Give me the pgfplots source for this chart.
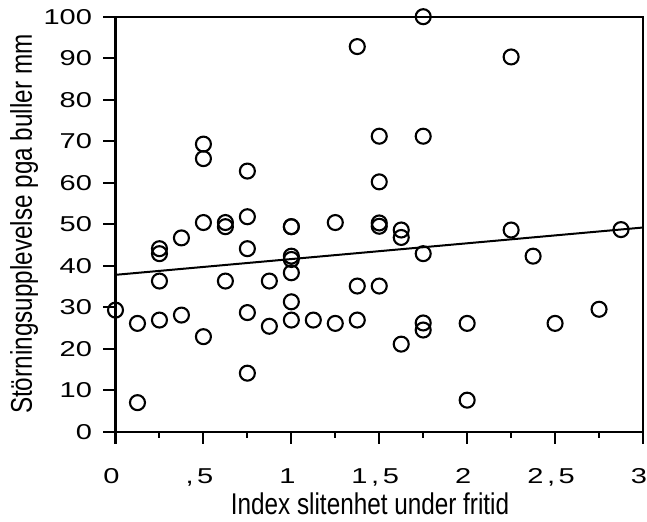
\documentclass[border=0pt]{standalone}
\usepackage{fontspec}
\setmainfont{Liberation Sans}[FakeStretch=0.81]
\newfontfamily\tickfont{Liberation Sans}[FakeStretch=1.35]
\usepackage{pgfplots}
\pgfplotsset{compat=1.18}
\begin{document}
\begin{tikzpicture}
\useasboundingbox (0,0) rectangle (647bp,522bp);
\begin{axis}[
  at={(115.5bp,90.3bp)}, anchor=south west,
  scale only axis, width=527.5bp, height=415bp,
  xmin=0, xmax=3, ymin=0, ymax=100,
  axis line style={line width=2.2bp},
  xtick={0,0.5,1,1.5,2,2.5,3},
  xticklabels={0,{,\,5},1,{1\,,\,5},2,{2\,,\,5},3},
  minor xtick={0.25,0.75,1.25,1.75,2.25,2.75},
  ytick={0,10,...,100},
  yticklabels={0,10,20,30,40,50,60,70,80,90,100},
  tick align=outside, tick pos=left,
  major tick length=12bp, minor tick length=6bp,
  every tick/.style={line width=2bp, black},
  xticklabel style={font=\tickfont\fontsize{21.5bp}{25bp}\selectfont, anchor=base, yshift=-40bp, xshift=-4bp},
  yticklabel style={font=\tickfont\fontsize{21.5bp}{25bp}\selectfont, anchor=east, xshift=-8bp},
  xlabel={Index slitenhet under fritid},
  ylabel={Störningsupplevelse pga buller mm},
  xlabel style={font=\fontsize{30bp}{34bp}\selectfont, inner sep=0pt, at={(axis description cs:0.4825,-0.2007)}, anchor=base},
  ylabel style={font=\fontsize{30bp}{34bp}\selectfont, at={(axis description cs:-0.1583,0.5)}, anchor=base, rotate=0},
]
\addplot[only marks, mark=o, mark size=7.5bp, mark options={line width=2.1bp, black}] coordinates {
(0,29.3) (0.125,26.1) (0.125,7.0)
(0.25,44.1) (0.25,42.9) (0.25,36.3) (0.25,26.9)
(0.375,46.7) (0.375,28.1)
(0.5,69.3) (0.5,65.8) (0.5,50.4) (0.5,22.9)
(0.625,50.4) (0.625,49.4) (0.625,36.3)
(0.75,62.8) (0.75,51.8) (0.75,44.1) (0.75,28.7) (0.75,14.1)
(0.875,36.3) (0.875,25.4)
(1,49.4) (1,49.4) (1,42.3) (1,41.5) (1,38.3) (1,31.3) (1,26.9)
(1.125,26.9)
(1.25,50.4) (1.25,26.1)
(1.375,92.8) (1.375,35.1) (1.375,26.9)
(1.5,71.2) (1.5,60.2) (1.5,50.3) (1.5,49.5) (1.5,35.1)
(1.625,48.6) (1.625,46.8) (1.625,21.1)
(1.75,100) (1.75,71.2) (1.75,42.9) (1.75,26.2) (1.75,24.5)
(2,26.1) (2,7.6)
(2.25,90.3) (2.25,48.6)
(2.375,42.3)
(2.5,26.1)
(2.75,29.5)
(2.875,48.7)
};
\addplot[black, line width=2bp] coordinates {(0,37.8) (3,49.2)};
\end{axis}
\end{tikzpicture}
\end{document}
